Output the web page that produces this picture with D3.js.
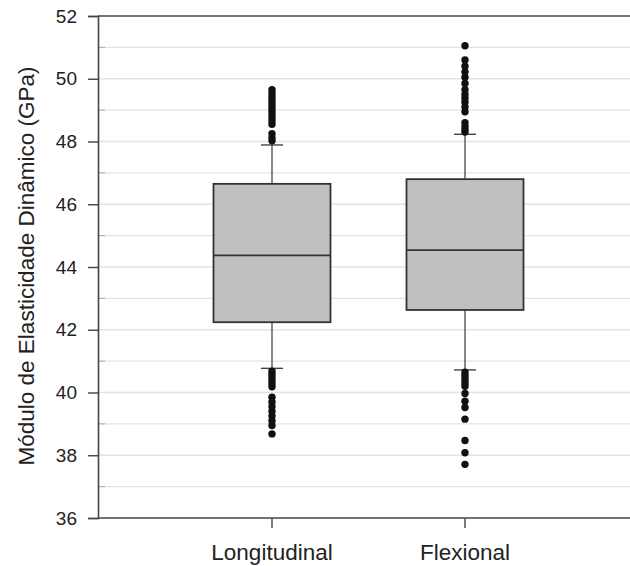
<!DOCTYPE html>
<html>
<head>
<meta charset="utf-8">
<script src="https://cdn.jsdelivr.net/npm/d3@7"></script>
<style>
  html, body { margin: 0; padding: 0; background: #fff; }
  svg { display: block; font-family: "Liberation Sans", Arial, sans-serif; }
</style>
</head>
<body>
<svg id="chart" width="630" height="566"></svg>
<script>
// Categories and box statistics (GPa)
const categories = ["Longitudinal", "Flexional"];
const q1 = [42.24, 42.63];
const median = [44.37, 44.54];
const q3 = [46.65, 46.80];
const whiskerLow = [40.77, 40.72];
const whiskerHigh = [47.89, 48.23];

// Outlying measurements beyond the whiskers
const outliersLongitudinal = [
  49.65, 49.55, 49.45, 49.35, 49.25, 49.15, 49.05, 48.95, 48.85, 48.75, 48.65, 48.55,
  48.25, 48.12, 48.02,
  40.68, 40.58, 40.48, 40.38, 40.28, 40.18,
  39.85, 39.7, 39.55, 39.4, 39.25, 39.1, 38.95, 38.68
];
const outliersFlexional = [
  51.05, 50.6, 50.4, 50.22, 50.05, 49.85, 49.65, 49.5, 49.38, 49.25, 49.1, 48.95,
  48.6, 48.48, 48.38, 48.3,
  40.65, 40.56, 40.47, 40.38, 40.29, 40.2,
  39.97, 39.72, 39.52, 39.15, 38.47, 38.08, 37.71
];
const outliers = [outliersLongitudinal, outliersFlexional];

// Axis ticks
const yMajorTicks = [36, 38, 40, 42, 44, 46, 48, 50, 52];
const yMinorTicks = [37, 39, 41, 43, 45, 47, 49, 51];
const yGridValues = [37, 38, 39, 40, 41, 42, 43, 44, 45, 46, 47, 48, 49, 50, 51];
const yLabel = "Módulo de Elasticidade Dinâmico (GPa)";

const svg = d3.select("#chart");
const plot = { left: 98, right: 630, top: 16, bottom: 518 };

const y = d3.scaleLinear().domain([36, 52]).range([plot.bottom, plot.top]);
const x = d3.scaleBand().domain(categories).range([175.5, 561.5]).paddingInner(0).paddingOuter(0);
const boxWidth = 117;
const capHalf = 11;

// Light horizontal gridlines
svg.append("g")
  .selectAll("line")
  .data(yGridValues)
  .join("line")
  .attr("x1", plot.left).attr("x2", plot.right)
  .attr("y1", d => y(d)).attr("y2", d => y(d))
  .attr("stroke", "#e3e3e3").attr("stroke-width", 1.3);

// Minor ticks drawn inside the left axis
svg.append("g")
  .selectAll("line")
  .data(yMinorTicks)
  .join("line")
  .attr("x1", plot.left).attr("x2", plot.left + 7)
  .attr("y1", d => y(d)).attr("y2", d => y(d))
  .attr("stroke", "#aaa").attr("stroke-width", 1);

// Left axis
const yAxis = d3.axisLeft(y).tickValues(yMajorTicks).tickSize(10).tickPadding(11).tickFormat(d3.format("d"));
const gy = svg.append("g").attr("transform", `translate(${plot.left},0)`).call(yAxis);
gy.select(".domain").attr("stroke", "#444").attr("stroke-width", 1.6);
gy.selectAll(".tick line").attr("stroke", "#444").attr("stroke-width", 1.4);
gy.selectAll(".tick text").attr("fill", "#222").attr("font-size", 19).attr("font-family", "Liberation Sans, Arial, sans-serif");

// Bottom axis
const xAxis = d3.axisBottom(x).tickSize(10).tickPadding(16).tickSizeOuter(0);
const gx = svg.append("g").attr("transform", `translate(0,${plot.bottom})`).call(xAxis);
gx.select(".domain").remove();
gx.append("line").attr("x1", plot.left).attr("x2", plot.right).attr("y1", 0).attr("y2", 0)
  .attr("stroke", "#444").attr("stroke-width", 1.6);
gx.selectAll(".tick line").attr("stroke", "#444").attr("stroke-width", 1.4);
gx.selectAll(".tick text").attr("fill", "#222").attr("font-size", 22.5).attr("font-family", "Liberation Sans, Arial, sans-serif");

// Top frame line
svg.append("line")
  .attr("x1", plot.left).attr("x2", plot.right)
  .attr("y1", y(52)).attr("y2", y(52))
  .attr("stroke", "#444").attr("stroke-width", 1.6);

// Y-axis title
svg.append("text")
  .attr("transform", `translate(34,266) rotate(-90)`)
  .attr("text-anchor", "middle")
  .attr("font-size", 22.5)
  .attr("fill", "#222")
  .text(yLabel);

// Boxes with whiskers
const cx = c => x(c) + x.bandwidth() / 2;
const boxes = svg.append("g").selectAll("g")
  .data(categories.map((c, i) => ({ c, i })))
  .join("g");

// whisker stems
boxes.append("line")
  .attr("x1", d => cx(d.c)).attr("x2", d => cx(d.c))
  .attr("y1", d => y(whiskerHigh[d.i])).attr("y2", d => y(q3[d.i]))
  .attr("stroke", "#555").attr("stroke-width", 1.4);
boxes.append("line")
  .attr("x1", d => cx(d.c)).attr("x2", d => cx(d.c))
  .attr("y1", d => y(q1[d.i])).attr("y2", d => y(whiskerLow[d.i]))
  .attr("stroke", "#555").attr("stroke-width", 1.4);
// caps
boxes.append("line")
  .attr("x1", d => cx(d.c) - capHalf).attr("x2", d => cx(d.c) + capHalf)
  .attr("y1", d => y(whiskerHigh[d.i])).attr("y2", d => y(whiskerHigh[d.i]))
  .attr("stroke", "#444").attr("stroke-width", 1.4);
boxes.append("line")
  .attr("x1", d => cx(d.c) - capHalf).attr("x2", d => cx(d.c) + capHalf)
  .attr("y1", d => y(whiskerLow[d.i])).attr("y2", d => y(whiskerLow[d.i]))
  .attr("stroke", "#444").attr("stroke-width", 1.4);
// box body
boxes.append("rect")
  .attr("x", d => cx(d.c) - boxWidth / 2)
  .attr("width", boxWidth)
  .attr("y", d => y(q3[d.i]))
  .attr("height", d => y(q1[d.i]) - y(q3[d.i]))
  .attr("fill", "#c0c0c0")
  .attr("stroke", "#333").attr("stroke-width", 1.8);
// median
boxes.append("line")
  .attr("x1", d => cx(d.c) - boxWidth / 2).attr("x2", d => cx(d.c) + boxWidth / 2)
  .attr("y1", d => y(median[d.i])).attr("y2", d => y(median[d.i]))
  .attr("stroke", "#333").attr("stroke-width", 1.8);

// Outlier points
boxes.selectAll("circle")
  .data(d => outliers[d.i].map(v => ({ c: d.c, v })))
  .join("circle")
  .attr("cx", d => cx(d.c))
  .attr("cy", d => y(d.v))
  .attr("r", 3.7)
  .attr("fill", "#111");
</script>
</body>
</html>
